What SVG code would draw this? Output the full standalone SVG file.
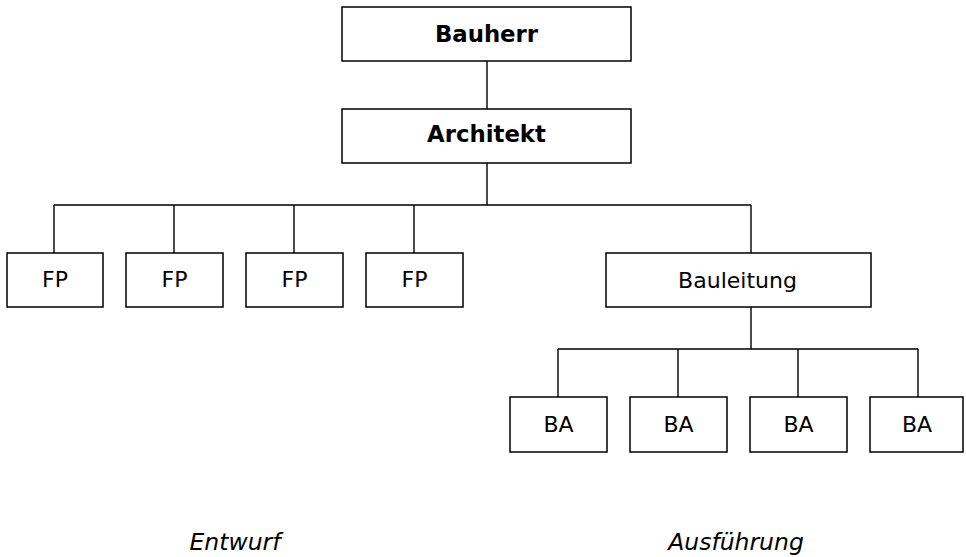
<svg xmlns="http://www.w3.org/2000/svg" width="966" height="557" viewBox="0 0 966 557">
<style>
.box{fill:#fff;stroke:#000;stroke-width:1.5}
.ln{fill:none;stroke:#000;stroke-width:1.4}
text{font-family:"DejaVu Sans",Verdana,sans-serif;font-size:22px;fill:#000;text-anchor:middle}
.b{font-weight:bold;font-size:22.8px}
.i{font-style:italic;font-size:23.5px}
</style>
<rect width="966" height="557" fill="#fff"/>
<g id="connectors">
<path class="ln" d="M487 61V109M487 163V205M54 205H751M54 205V253M174 205V253M294 205V253M414 205V253M751 205V253M751 307V349M558 349H918M558 349V397M678 349V397M798 349V397M918 349V397"/>
</g>
<g id="bauherr"><rect class="box" x="342" y="7" width="289" height="54"/><text class="b" x="486.5" y="42">Bauherr</text></g>
<g id="architekt"><rect class="box" x="342" y="109" width="289" height="54"/><text class="b" x="486.5" y="142">Architekt</text></g>
<g id="fp1"><rect class="box" x="7" y="253" width="96" height="54"/><text x="55" y="287">FP</text></g>
<g id="fp2"><rect class="box" x="126" y="253" width="97" height="54"/><text x="174.5" y="287">FP</text></g>
<g id="fp3"><rect class="box" x="246" y="253" width="97" height="54"/><text x="294.5" y="287">FP</text></g>
<g id="fp4"><rect class="box" x="366" y="253" width="97" height="54"/><text x="414.5" y="287">FP</text></g>
<g id="bauleitung"><rect class="box" x="606" y="253" width="265" height="54"/><text x="737.5" y="288">Bauleitung</text></g>
<g id="ba1"><rect class="box" x="510" y="397" width="97" height="55"/><text x="558.5" y="432">BA</text></g>
<g id="ba2"><rect class="box" x="630" y="397" width="97" height="55"/><text x="678.5" y="432">BA</text></g>
<g id="ba3"><rect class="box" x="750" y="397" width="97" height="55"/><text x="798.5" y="432">BA</text></g>
<g id="ba4"><rect class="box" x="870" y="397" width="93" height="55"/><text x="917" y="432">BA</text></g>
<g id="labels">
<text class="i" x="235" y="550">Entwurf</text>
<text class="i" x="736" y="550">Ausführung</text>
</g>
</svg>
